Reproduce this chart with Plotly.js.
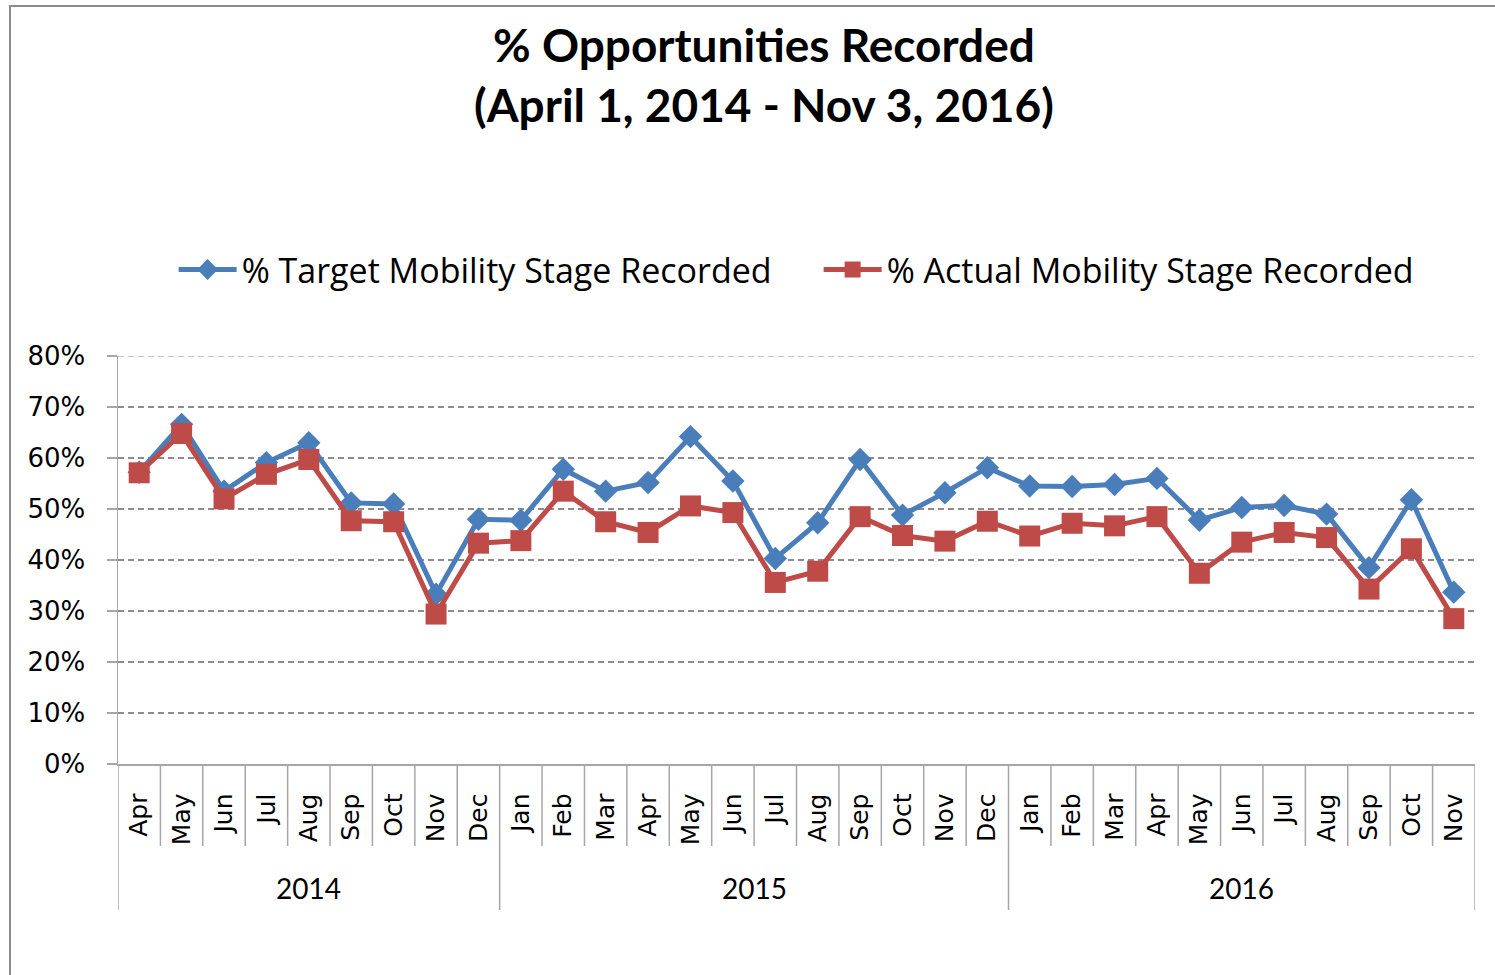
<!DOCTYPE html>
<html>
<head>
<meta charset="utf-8">
<script src="https://cdn.plot.ly/plotly-3.0.1.min.js"></script>
<style>
  html, body { margin: 0; padding: 0; background: #fff; overflow: hidden; }
  #chart { position: absolute; left: 0; top: 0; width: 1495px; height: 975px; }
  #frame { position: absolute; left: 9px; top: 5px; width: 3000px; height: 3000px;
           border-left: 2px solid #8c8c8c; border-top: 2px solid #8c8c8c; pointer-events: none; }
</style>
</head>
<body>
<div id="chart"></div>
<div id="frame"></div>
<script>
// ---- data ----
const months = ['Apr','May','Jun','Jul','Aug','Sep','Oct','Nov','Dec',
                'Jan','Feb','Mar','Apr','May','Jun','Jul','Aug','Sep','Oct','Nov','Dec',
                'Jan','Feb','Mar','Apr','May','Jun','Jul','Aug','Sep','Oct','Nov'];
const years = ['2014', '2015', '2016'];
const monthsPerYear = [9, 12, 11];
const targetPct = [57.2, 66.6, 53.5, 59.1, 63.0, 51.2, 51.0, 33.3, 48.0,
                   47.8, 57.8, 53.5, 55.2, 64.2, 55.5, 40.3, 47.3, 59.7, 48.8, 53.2, 58.1,
                   54.5, 54.4, 54.8, 56.0, 47.8, 50.3, 50.7, 49.0, 38.5, 51.8, 33.7];
const actualPct = [57.1, 64.8, 52.0, 56.8, 59.7, 47.7, 47.5, 29.4, 43.3,
                   43.8, 53.5, 47.5, 45.4, 50.6, 49.3, 35.6, 37.8, 48.5, 44.8, 43.7, 47.6,
                   44.7, 47.2, 46.7, 48.5, 37.4, 43.5, 45.4, 44.4, 34.3, 42.2, 28.5];
const seriesNames = ['% Target Mobility Stage Recorded', '% Actual Mobility Stage Recorded'];
const titleText = '% Opportunities Recorded<br>(April 1, 2014 - Nov 3, 2016)';
const yMax = 80;

// ---- build ----
const idx = months.map((m, i) => i);
const blue = '#4A7EBB', red = '#BE4B48';
const axisGray = '#A6A6A6';
const gridGray = '#8c8c8c';
const calibriLike = 'Lato, "Open Sans", sans-serif';

const traces = [
  { x: idx, y: targetPct, name: seriesNames[0], type: 'scatter', mode: 'lines+markers',
    line: { color: blue, width: 5 }, marker: { symbol: 'diamond', size: 18, color: blue } },
  { x: idx, y: actualPct, name: seriesNames[1], type: 'scatter', mode: 'lines+markers',
    line: { color: red, width: 5 }, marker: { symbol: 'square', size: 21, color: red } }
];

const plotH = 408;
const monthSepDepth = -(846 - 764) / plotH;
const yearSepDepth = -(910 - 764) / plotH;
const yearLabelY = -(888 - 764) / plotH;

// top gridline (at the range edge, which Plotly does not draw itself)
const shapes = [{ type: 'line', xref: 'paper', yref: 'y', x0: 0, x1: 1, y0: yMax, y1: yMax,
                  layer: 'below', line: { color: gridGray, width: 1.2, dash: '6px,4px' } }];
const annotations = [];
const yearBounds = new Set();
let start = 0;
monthsPerYear.forEach((n, k) => {
  yearBounds.add(start);
  annotations.push({ x: start + (n - 1) / 2, y: yearLabelY, xref: 'x', yref: 'paper',
    text: years[k], showarrow: false, yanchor: 'middle',
    font: { family: calibriLike, size: 28, color: '#000' } });
  start += n;
});
yearBounds.add(start);
for (let b = 0; b <= months.length; b++) {
  const isYear = yearBounds.has(b);
  shapes.push({ type: 'line', xref: 'x', yref: 'paper', x0: b - 0.5, x1: b - 0.5,
    y0: 0, y1: isYear ? yearSepDepth : monthSepDepth,
    line: { color: axisGray, width: 1.5 } });
}

const layout = {
  width: 1495, height: 975,
  paper_bgcolor: '#fff', plot_bgcolor: '#fff',
  margin: { l: 118, r: 20, t: 356, b: 211 },
  showlegend: true,
  title: { text: titleText, x: 0.511, xanchor: 'center', xref: 'container',
           y: 0.936, yanchor: 'middle', yref: 'container',
           font: { family: calibriLike, size: 46, color: '#000', weight: 'bold' } },
  legend: { orientation: 'h', x: 0.041, xanchor: 'left', y: 1.211, yanchor: 'middle',
            font: { family: '"Open Sans", Lato, sans-serif', size: 34, color: '#000' },
            itemwidth: 58, entrywidth: 572, bgcolor: 'rgba(0,0,0,0)' },
  xaxis: { range: [-0.5, months.length - 0.5], tickmode: 'array', tickvals: idx, ticktext: months,
           tickangle: -90, ticks: '', ticklabelstandoff: 18, showgrid: false, zeroline: false,
           showline: true, linecolor: axisGray, linewidth: 1.5,
           tickfont: { family: '"DejaVu Sans", Verdana, sans-serif', size: 25, color: '#000' } },
  yaxis: { range: [0, yMax], dtick: 10, tick0: 0, ticksuffix: '%', showgrid: true, gridcolor: gridGray,
           griddash: '6px,4px', gridwidth: 1.2, zeroline: false, showline: true,
           linecolor: axisGray, linewidth: 1.5, ticks: 'outside', ticklen: 10, tickcolor: axisGray,
           tickwidth: 1.5, ticklabelstandoff: 16,
           tickfont: { family: '"DejaVu Sans", Verdana, sans-serif', size: 26, color: '#000' } },
  shapes: shapes,
  annotations: annotations
};

Plotly.newPlot('chart', traces, layout, { displayModeBar: false, staticPlot: true });
</script>
</body>
</html>
